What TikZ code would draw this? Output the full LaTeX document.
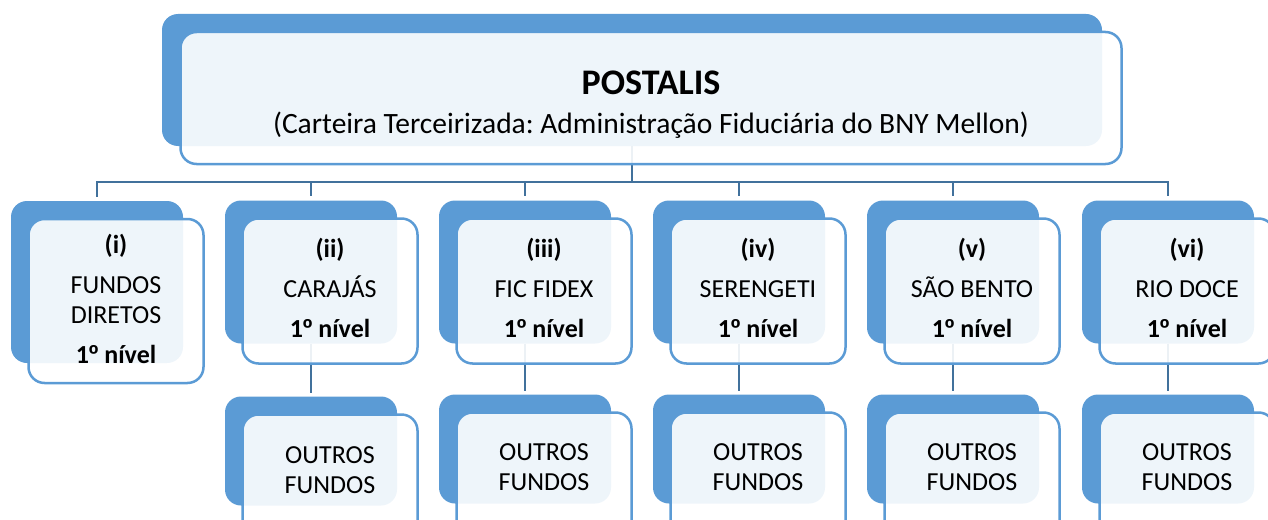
\documentclass[tikz,border=0pt]{standalone}
\usepackage{fontspec}
\setmainfont{Carlito}
\newfontfamily\ordfont{Liberation Sans}
\frenchspacing
\usetikzlibrary{backgrounds}
\definecolor{boxblue}{RGB}{91,155,213}
\definecolor{lineblue}{RGB}{65,113,156}

\begin{document}
\begin{tikzpicture}[x=1pt, y=-1pt,
  back/.style={fill=boxblue, rounded corners=16pt, inner sep=0pt, minimum width=172pt, minimum height=143pt},
  front/.style={draw=boxblue, line width=2.5pt, fill=white, fill opacity=0.9, rounded corners=16pt, inner sep=0pt, minimum width=175pt, minimum height=145pt},
  label/.style={align=center, inner sep=0pt, font=\fontsize{26}{30}\selectfont},
  link/.style={draw=lineblue, line width=2.5pt}]
\useasboundingbox (0,0) rectangle (1268,519);
\clip (0,0) rectangle (1268,519);
\node[back, minimum width=940pt, minimum height=132pt] (top-back) at (632,80) {};
\node[front, minimum width=941pt, minimum height=132pt] (top-front) at (651,98) {};
\node[anchor=base, font=\fontsize{36}{40}\selectfont\bfseries] (title) at (651,94) {POSTALIS};
\node[anchor=base, font=\fontsize{29.5}{34}\selectfont] (subtitle) at (651,133) {(Carteira Terceirizada: Administração Fiduciária do BNY Mellon)};
\node[back, minimum height=162pt] (i-back) at (97,282) {};
\node[front, minimum height=164pt] (i-front) at (116,301) {};
\node[label] (i-text) at (116,299) {\textbf{(i)}\\[10pt]FUNDOS\\DIRETOS\\[10pt]\textbf{1{\ordfont º} nível}};
\node[back] (ii-back) at (311,272) {};
\node[front] (ii-front) at (330,291) {};
\node[label] (ii-text) at (330,288) {\textbf{(ii)}\\[10pt]CARAJÁS\\[10pt]\textbf{1{\ordfont º} nível}};
\node[back] (iii-back) at (525,272) {};
\node[front] (iii-front) at (544,291) {};
\node[label] (iii-text) at (544,288) {\textbf{(iii)}\\[10pt]FIC FIDEX\\[10pt]\textbf{1{\ordfont º} nível}};
\node[back] (iv-back) at (739,272) {};
\node[front] (iv-front) at (758,291) {};
\node[label] (iv-text) at (758,288) {\textbf{(iv)}\\[10pt]SERENGETI\\[10pt]\textbf{1{\ordfont º} nível}};
\node[back] (v-back) at (953,272) {};
\node[front] (v-front) at (972,291) {};
\node[label] (v-text) at (972,288) {\textbf{(v)}\\[10pt]SÃO BENTO\\[10pt]\textbf{1{\ordfont º} nível}};
\node[back] (vi-back) at (1168,272) {};
\node[front] (vi-front) at (1187,291) {};
\node[label] (vi-text) at (1187,288) {\textbf{(vi)}\\[10pt]RIO DOCE\\[10pt]\textbf{1{\ordfont º} nível}};
\node[back, minimum height=109pt] (ii-sub-back) at (311,451) {};
\node[front] (ii-sub-front) at (330,487) {};
\node[label] (ii-sub-text) at (330,470) {OUTROS\\FUNDOS};
\node[back, minimum height=109pt] (iii-sub-back) at (525,449) {};
\node[front] (iii-sub-front) at (544,485) {};
\node[label] (iii-sub-text) at (544,467) {OUTROS\\FUNDOS};
\node[back, minimum height=109pt] (iv-sub-back) at (739,449) {};
\node[front] (iv-sub-front) at (758,485) {};
\node[label] (iv-sub-text) at (758,467) {OUTROS\\FUNDOS};
\node[back, minimum height=109pt] (v-sub-back) at (953,449) {};
\node[front] (v-sub-front) at (972,485) {};
\node[label] (v-sub-text) at (972,467) {OUTROS\\FUNDOS};
\node[back, minimum height=109pt] (vi-sub-back) at (1168,449) {};
\node[front] (vi-sub-front) at (1187,485) {};
\node[label] (vi-sub-text) at (1187,467) {OUTROS\\FUNDOS};
\coordinate (bar) at (632,182);
\begin{pgfonlayer}{background}
\draw[link] (top-back.south) -- (bar);
\draw[link, shorten >=4pt] (bar) -| (i-back.north);
\draw[link, shorten >=4pt] (bar) -| (ii-back.north);
\draw[link, shorten >=4pt] (bar) -| (iii-back.north);
\draw[link, shorten >=4pt] (bar) -| (iv-back.north);
\draw[link, shorten >=4pt] (bar) -| (v-back.north);
\draw[link, shorten >=4pt] (bar) -| (vi-back.north);
\draw[link, shorten >=3pt] (ii-back.south) -- (ii-sub-back.north);
\draw[link, shorten >=3pt] (iii-back.south) -- (iii-sub-back.north);
\draw[link, shorten >=3pt] (iv-back.south) -- (iv-sub-back.north);
\draw[link, shorten >=3pt] (v-back.south) -- (v-sub-back.north);
\draw[link, shorten >=3pt] (vi-back.south) -- (vi-sub-back.north);
\end{pgfonlayer}
\end{tikzpicture}
\end{document}
